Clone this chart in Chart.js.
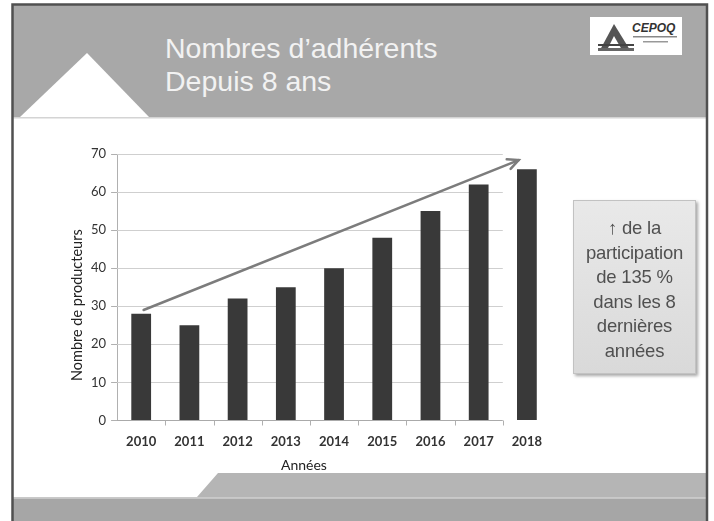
<!DOCTYPE html>
<html lang="fr">
<head>
<meta charset="utf-8">
<script src="https://cdn.jsdelivr.net/npm/chart.js@4/dist/chart.umd.min.js"></script>
<style>
  html, body { margin: 0; padding: 0; background: #ffffff; }
  body { width: 714px; height: 521px; position: relative; overflow: hidden; }
  #bg { position: absolute; left: 0; top: 0; }
  #chart { position: absolute; left: 0; top: 0; }
  .title {
    position: absolute; left: 165px; top: 32px;
    font-family: "Liberation Sans", Arial, sans-serif; font-size: 28.5px; line-height: 33px;
    color: #f2f2f2; white-space: nowrap;
  }
  .note {
    position: absolute; left: 573px; top: 200px; width: 123px; height: 174px;
    box-sizing: border-box; padding-top: 15px;
    background: linear-gradient(#e9e9e9, #d9d9d9);
    border: 1px solid #c2c2c2; box-shadow: 2px 2px 3px rgba(0,0,0,0.35);
    font-family: "Liberation Sans", Arial, sans-serif; font-size: 18.5px; line-height: 24.5px;
    color: #505050; text-align: center; white-space: nowrap; letter-spacing: -0.2px;
  }
  .note b { font-weight: bold; }
</style>
</head>
<body>
<svg id="bg" width="714" height="521" xmlns="http://www.w3.org/2000/svg">
  <rect x="13" y="5" width="693" height="112" fill="#a8a8a8"/>
  <polygon points="20,117 87,53 149,117" fill="#ffffff"/>
  <rect x="13" y="117" width="693" height="1.5" fill="#d4d4d4"/>
  <polygon points="218,473 706,473 706,497 197,497" fill="#b5b5b5"/>
  <rect x="13" y="497" width="693" height="1.5" fill="#c9c9c9"/>
  <rect x="13" y="498.5" width="693" height="30" fill="#a6a6a6"/>
  <rect x="590" y="17" width="92" height="38" fill="#ffffff"/>
  <polygon points="600,50 614,24 630,50" fill="#555555"/>
  <polygon points="607,50 614,36 622,50" fill="#ffffff"/>
  <rect x="598" y="44" width="36" height="2" fill="#444"/>
  <rect x="598" y="48" width="36" height="3" fill="#666"/>
  <text x="632" y="32" font-family="Liberation Sans, Arial" font-size="12" font-weight="bold" font-style="italic" fill="#333">CEPOQ</text>
  <rect x="633" y="36" width="44" height="1.5" fill="#888"/>
  <rect x="643" y="41" width="25" height="1.5" fill="#999"/>
  <rect x="12.5" y="4.5" width="694.5" height="530" fill="none" stroke="#505050" stroke-width="2.5"/>
</svg>

<div class="title">Nombres d’adhérents<br>Depuis 8 ans</div>

<canvas id="chart" width="714" height="521"></canvas>

<div class="note"><b>↑</b> de la<br>participation<br>de 135 %<br>dans les 8<br>dernières<br>années</div>

<script>
// ---- data ----
const years = ['2010', '2011', '2012', '2013', '2014', '2015', '2016', '2017', '2018'];
const adherents = [28, 25, 32, 35, 40, 48, 55, 62, 66];
const yMin = 0;
const yMax = 70;
const yStep = 10;
// trend arrow, in data units: [category index, value]
const trendFrom = [0.05, 29];
const trendTo = [7.83, 68.4];
// number of categories covered by the original grid
const gridCategories = 8;
const xTitle = 'Années';
const yTitle = 'Nombre de producteurs';

function catPixel(xs, idx) {
  const p0 = xs.getPixelForValue(0);
  const p1 = xs.getPixelForValue(1);
  return p0 + idx * (p1 - p0);
}

const slidePlugin = {
  id: 'slidePlugin',
  beforeDatasetsDraw(chart) {
    const { ctx, chartArea, scales } = chart;
    const xs = scales.x, ys = scales.y;
    const endX = catPixel(xs, gridCategories - 0.5);
    ctx.save();
    ctx.lineWidth = 1;
    ys.ticks.forEach(t => {
      const py = Math.round(ys.getPixelForValue(t.value)) + 0.5;
      ctx.strokeStyle = t.value === 0 ? '#aaaaaa' : '#cfcfcf';
      ctx.beginPath();
      ctx.moveTo(chartArea.left, py);
      ctx.lineTo(endX, py);
      ctx.stroke();
    });
    ctx.strokeStyle = '#b0b0b0';
    const by = Math.round(chartArea.bottom) + 0.5;
    for (let i = 1; i <= gridCategories; i++) {
      const px = Math.round(catPixel(xs, i - 0.5)) + 0.5;
      ctx.beginPath();
      ctx.moveTo(px, by);
      ctx.lineTo(px, by + 5);
      ctx.stroke();
    }
    ctx.restore();
  },
  afterDatasetsDraw(chart) {
    const { ctx, scales } = chart;
    const xs = scales.x, ys = scales.y;
    const x1 = catPixel(xs, trendFrom[0]), y1 = ys.getPixelForValue(trendFrom[1]);
    const x2 = catPixel(xs, trendTo[0]), y2 = ys.getPixelForValue(trendTo[1]);
    const ang = Math.atan2(y2 - y1, x2 - x1);
    ctx.save();
    ctx.strokeStyle = '#7c7c7c';
    ctx.lineWidth = 2.5;
    ctx.lineCap = 'round';
    ctx.beginPath();
    ctx.moveTo(x1, y1);
    ctx.lineTo(x2, y2);
    ctx.stroke();
    const L = 12, a = 0.45;
    ctx.beginPath();
    ctx.moveTo(x2 - L * Math.cos(ang - a), y2 - L * Math.sin(ang - a));
    ctx.lineTo(x2, y2);
    ctx.lineTo(x2 - L * Math.cos(ang + a), y2 - L * Math.sin(ang + a));
    ctx.stroke();
    ctx.restore();
  },
  afterDraw(chart) {
    const { ctx, chartArea, scales } = chart;
    const xs = scales.x;
    const endX = catPixel(xs, gridCategories - 0.5);
    ctx.save();
    ctx.fillStyle = '#222222';
    ctx.textAlign = 'center';
    ctx.textBaseline = 'middle';
    ctx.font = '14px Lato';
    ctx.fillText(xTitle, (chartArea.left + endX) / 2 - 6, chartArea.bottom + 45);
    ctx.translate(chartArea.left - 40, (chartArea.top + chartArea.bottom) / 2 + 18);
    ctx.rotate(-Math.PI / 2);
    ctx.font = '14.5px Lato';
    ctx.fillText(yTitle, 0, 0);
    ctx.restore();
  }
};

new Chart(document.getElementById('chart'), {
  type: 'bar',
  data: {
    labels: years,
    datasets: [{
      data: adherents,
      backgroundColor: '#393939',
      borderWidth: 0,
      barPercentage: 0.41,
      categoryPercentage: 1.0
    }]
  },
  options: {
    responsive: false,
    animation: false,
    events: [],
    layout: { padding: { left: 86, right: 163, top: 154, bottom: 65 } },
    plugins: { legend: { display: false }, tooltip: { enabled: false } },
    scales: {
      x: {
        grid: { display: false },
        border: { display: false },
        ticks: { color: '#333333', font: { family: 'Lato', size: 13, weight: 'bold' }, padding: 6 }
      },
      y: {
        min: yMin, max: yMax,
        grid: { display: true, drawOnChartArea: false, drawTicks: true, tickLength: 6, color: '#b0b0b0' },
        border: { display: true, color: '#b0b0b0' },
        ticks: { stepSize: yStep, color: '#333333', font: { family: 'Lato', size: 13 }, padding: 5 }
      }
    }
  },
  plugins: [slidePlugin]
});
</script>
</body>
</html>
